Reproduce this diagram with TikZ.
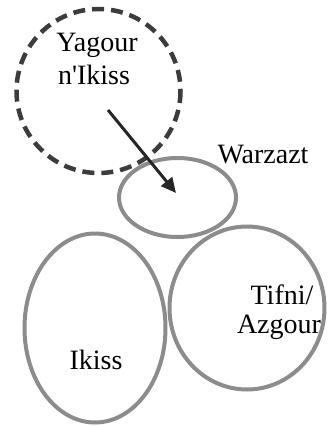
\documentclass[tikz,border=0pt]{standalone}
\usepackage{fontspec}
\setmainfont{Liberation Serif}
\newfontfamily\lblfont{Liberation Serif}
\usetikzlibrary{arrows.meta}
\definecolor{ringgray}{RGB}{140,140,140}
\definecolor{dashgray}{RGB}{60,60,60}
\begin{document}
\begin{tikzpicture}[x=1pt,y=-1pt,
  ring/.style={draw=ringgray,line width=4pt},
  lbl/.style={font=\lblfont\fontsize{28}{31}\selectfont,text=black,align=center,inner sep=0pt}]
\useasboundingbox (0,0) rectangle (327,426);
\draw[ring] (177.5,197.5) ellipse [x radius=58.5,y radius=39.5];
\draw[ring] (95,328) ellipse [x radius=70.5,y radius=94.5];
\draw[ring] (247,308) ellipse [x radius=77.5,y radius=81.5];
\draw[draw=dashgray,line width=4.5pt,dash pattern=on 12pt off 7pt] (98.5,91) circle [radius=82];
\node[lbl] (yag) at (97,45) {Yagour};
\node[lbl] (nik) at (94,75) {n'Ikiss};
\node[lbl] (war) at (263,155) {Warzazt};
\node[lbl] (tif) at (282,295) {Tifni/};
\node[lbl] (azg) at (279,327) {Azgour};
\node[lbl] (iki) at (96,360) {Ikiss};
\coordinate (as) at (108,110);
\coordinate (ae) at (176,193);
\draw[line width=3pt,black!85,-{Triangle[length=15pt,width=14pt]}] (as) -- (ae);
\end{tikzpicture}
\end{document}
